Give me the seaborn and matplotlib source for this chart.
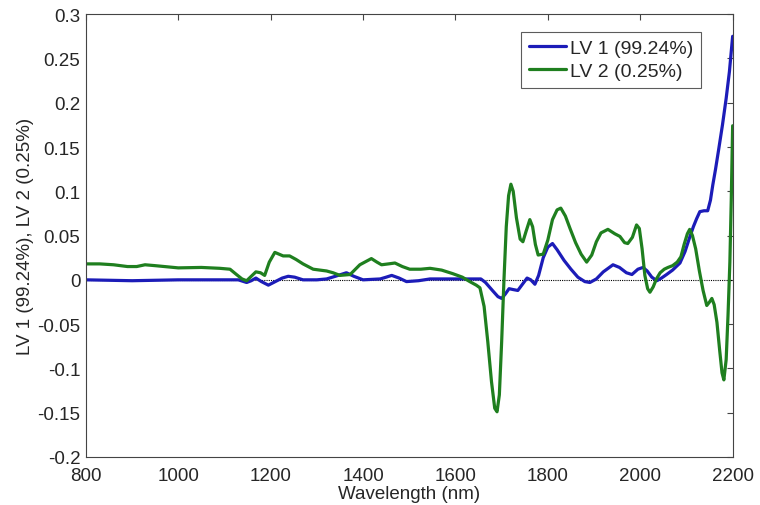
import numpy as np
import pandas as pd
import matplotlib
matplotlib.use("Agg")
import matplotlib.pyplot as plt
import seaborn as sns
from matplotlib.ticker import FuncFormatter

# Loadings
lv1_wl = [800, 900, 1000, 1100, 1130, 1148, 1158, 1168, 1180, 1195, 1210, 1225, 1238, 1252,
          1270, 1300, 1321, 1340, 1364, 1380, 1400, 1437, 1450, 1462, 1478, 1494, 1520, 1545,
          1600, 1640, 1655, 1665, 1680, 1692, 1700, 1708, 1716, 1725, 1735, 1745, 1755, 1763,
          1772, 1780, 1790, 1800, 1810, 1820, 1835, 1850, 1865, 1880, 1891, 1905, 1920, 1941,
          1955, 1970, 1982, 1995, 2006, 2015, 2025, 2036, 2046, 2057, 2070, 2086, 2097, 2107,
          2115, 2122, 2129, 2138, 2146, 2152, 2157, 2163, 2170, 2178, 2186, 2193, 2200]
lv1_val = [0.0, -0.001, 0.0, 0.0, 0.0, -0.003, -0.001, 0.002, -0.002, -0.006, -0.002, 0.002,
           0.004, 0.003, 0.0, 0.0, 0.001, 0.004, 0.008, 0.004, 0.0, 0.001, 0.003, 0.005, 0.002,
           -0.002, -0.001, 0.001, 0.001, 0.001, 0.001, -0.003, -0.012, -0.019, -0.021, -0.016,
           -0.010, -0.011, -0.012, -0.005, 0.002, 0.0, -0.005, 0.005, 0.025, 0.037, 0.041, 0.034,
           0.022, 0.012, 0.003, -0.002, -0.003, 0.001, 0.009, 0.017, 0.014, 0.008, 0.006, 0.012,
           0.014, 0.010, 0.003, -0.001, 0.002, 0.006, 0.011, 0.019, 0.032, 0.048, 0.060, 0.069,
           0.077, 0.078, 0.078, 0.090, 0.107, 0.125, 0.148, 0.175, 0.205, 0.235, 0.275]

lv2_wl = [800, 830, 860, 890, 910, 928, 950, 1000, 1050, 1090, 1112, 1126, 1138, 1148, 1158,
          1168, 1178, 1187, 1197, 1209, 1218, 1227, 1241, 1255, 1270, 1292, 1321, 1335, 1350,
          1372, 1393, 1418, 1430, 1440, 1455, 1469, 1485, 1501, 1525, 1545, 1570, 1594, 1615,
          1631, 1645, 1653, 1662, 1670, 1678, 1685, 1690, 1695, 1700, 1705, 1710, 1715, 1720,
          1725, 1732, 1740, 1746, 1753, 1761, 1767, 1773, 1779, 1790, 1800, 1810, 1820, 1828,
          1838, 1848, 1860, 1872, 1884, 1895, 1905, 1915, 1930, 1945, 1956, 1966, 1973, 1983,
          1992, 1998, 2004, 2010, 2016, 2021, 2028, 2035, 2043, 2052, 2060, 2070, 2080, 2088,
          2095, 2102, 2107, 2113, 2120, 2128, 2136, 2144, 2150, 2155, 2160, 2166, 2172, 2177,
          2181, 2186, 2190, 2194, 2197, 2200]
lv2_val = [0.018, 0.018, 0.017, 0.015, 0.015, 0.017, 0.016, 0.0135, 0.014, 0.013, 0.012, 0.006,
           0.001, -0.001, 0.004, 0.009, 0.008, 0.005, 0.020, 0.031, 0.029, 0.027, 0.027, 0.023,
           0.018, 0.012, 0.010, 0.008, 0.005, 0.006, 0.017, 0.024, 0.020, 0.017, 0.018, 0.019,
           0.015, 0.012, 0.012, 0.013, 0.011, 0.007, 0.003, -0.002, -0.006, -0.009, -0.030,
           -0.070, -0.115, -0.145, -0.149, -0.130, -0.070, 0.0, 0.060, 0.095, 0.108, 0.100,
           0.070, 0.046, 0.043, 0.055, 0.068, 0.060, 0.040, 0.028, 0.029, 0.045, 0.068, 0.079,
           0.081, 0.072, 0.058, 0.042, 0.029, 0.020, 0.028, 0.043, 0.053, 0.057, 0.052, 0.049,
           0.042, 0.041, 0.048, 0.062, 0.058, 0.035, 0.005, -0.010, -0.014, -0.008, 0.001, 0.008,
           0.012, 0.014, 0.016, 0.020, 0.026, 0.040, 0.052, 0.057, 0.050, 0.035, 0.010, -0.012,
           -0.029, -0.025, -0.021, -0.028, -0.048, -0.080, -0.105, -0.113, -0.090, -0.040, 0.020,
           0.090, 0.174]

labels = ["LV 1 (99.24%)", "LV 2 (0.25%)"]
xticks = [800, 1000, 1200, 1400, 1600, 1800, 2000, 2200]
yticks = [-0.2, -0.15, -0.1, -0.05, 0, 0.05, 0.1, 0.15, 0.2, 0.25, 0.3]

df = pd.concat([
    pd.DataFrame({"wl": lv1_wl, "val": lv1_val, "lv": labels[0]}),
    pd.DataFrame({"wl": lv2_wl, "val": lv2_val, "lv": labels[1]}),
])

sns.set_style("white")
plt.rcParams['font.family'] = ['Liberation Sans', 'DejaVu Sans']

fig = plt.figure(figsize=(7.6, 5.06), dpi=100)
ax = fig.add_axes([0.113, 0.095, 0.851, 0.875])

# dotted zero line
ax.axhline(0, color="black", lw=0.8, ls=(0, (1, 1)), zorder=1)
sns.lineplot(data=df, x="wl", y="val", hue="lv", palette=["#1c1cb8", "#1f7f1f"],
             estimator=None, sort=False, lw=2.3, ax=ax, zorder=2)

ax.set_xlim(800, 2200)
ax.set_ylim(-0.2, 0.3)
ax.set_xticks(xticks)
ax.set_yticks(yticks)
ax.yaxis.set_major_formatter(FuncFormatter(lambda v, p: "%g" % round(v, 3)))
ax.tick_params(direction="in", top=True, right=True, labelsize=13.5, length=4,
               color="#444444")
ax.tick_params(axis="x", pad=7)
ax.tick_params(axis="y", pad=4)
for s in ax.spines.values():
    s.set_visible(True)
    s.set_color("#444444")
    s.set_linewidth(0.8)

ax.set_xlabel("Wavelength (nm)", fontsize=13.5, labelpad=1)
ax.set_ylabel("LV 1 (99.24%), LV 2 (0.25%)", fontsize=13.5, labelpad=2)

leg = ax.legend(loc="upper right", bbox_to_anchor=(0.951, 0.96), fontsize=14,
                frameon=True, fancybox=False, handlelength=1.9, handletextpad=0.2,
                borderpad=0.4, labelspacing=0.25, borderaxespad=0)
leg.get_frame().set_edgecolor("#333333")
leg.get_frame().set_linewidth(0.8)

fig.savefig("out.png", dpi=100)
